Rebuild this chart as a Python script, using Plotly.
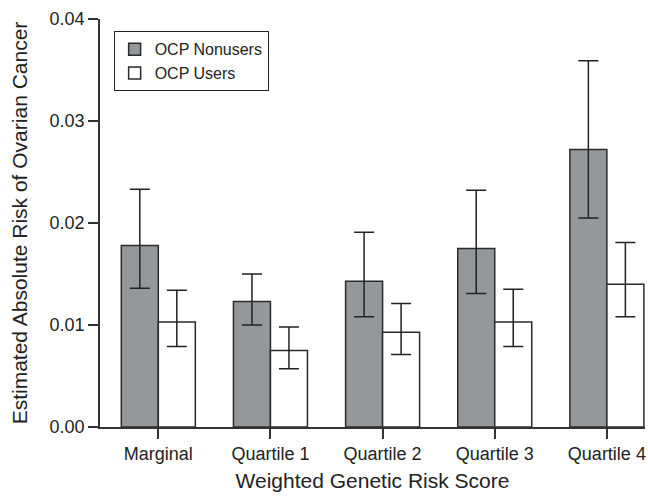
import plotly.graph_objects as go

# Risk estimates by weighted genetic risk score group
categories = ["Marginal", "Quartile 1", "Quartile 2", "Quartile 3", "Quartile 4"]

nonusers = [0.0178, 0.0123, 0.0143, 0.0175, 0.0272]
nonusers_hi = [0.0233, 0.0150, 0.0191, 0.0232, 0.0359]
nonusers_lo = [0.0136, 0.0100, 0.0108, 0.0131, 0.0205]

users = [0.0103, 0.0075, 0.0093, 0.0103, 0.0140]
users_hi = [0.0134, 0.0098, 0.0121, 0.0135, 0.0181]
users_lo = [0.0079, 0.0057, 0.0071, 0.0079, 0.0108]

y_ticks = [0.0, 0.01, 0.02, 0.03, 0.04]
y_tick_text = ["0.00", "0.01", "0.02", "0.03", "0.04"]

FONT = "Arial, Liberation Sans, Helvetica, sans-serif"
INK = "#222222"


def err(vals, hi, lo, color):
    return dict(
        type="data",
        symmetric=False,
        array=[h - v for h, v in zip(hi, vals)],
        arrayminus=[v - l for v, l in zip(vals, lo)],
        color=color,
        thickness=1.5,
        width=10,
    )


fig = go.Figure()
fig.add_trace(go.Bar(
    x=categories, y=nonusers, name="OCP Nonusers",
    marker=dict(color="#96979b", line=dict(color="#2a2a2a", width=1.5)),
    error_y=err(nonusers, nonusers_hi, nonusers_lo, INK),
))
fig.add_trace(go.Bar(
    x=categories, y=users, name="OCP Users",
    marker=dict(color="#ffffff", line=dict(color="#2a2a2a", width=1.5)),
    error_y=err(users, users_hi, users_lo, INK),
))

fig.update_layout(
    width=648, height=502,
    margin=dict(l=100, r=3, t=19, b=75),
    paper_bgcolor="white", plot_bgcolor="white",
    barmode="group", bargap=0.34, bargroupgap=0,
    font=dict(family=FONT, size=18, color=INK),
    showlegend=True,
    legend=dict(
        x=0.025, y=0.97, xanchor="left", yanchor="top",
        bgcolor="white", bordercolor="#222222", borderwidth=1,
        font=dict(family=FONT, size=16, color=INK),
        tracegroupgap=0, itemwidth=30,
    ),
    xaxis=dict(
        range=[-0.52, 4.34],
        showline=True, linecolor="#333333", linewidth=1.5,
        ticks="outside", ticklen=10, tickwidth=1.5, tickcolor="#333333",
        showgrid=False, zeroline=False,
        tickfont=dict(size=18, color=INK),
        title=dict(text="Weighted Genetic Risk Score", font=dict(size=21, color=INK), standoff=10),
    ),
    yaxis=dict(
        range=[0, 0.04],
        tickvals=y_ticks, ticktext=y_tick_text,
        showline=True, linecolor="#333333", linewidth=1.5,
        ticks="outside", ticklen=10, tickwidth=1.5, tickcolor="#333333",
        showgrid=False, zeroline=False,
        tickfont=dict(size=18, color=INK),
        title=dict(text="Estimated Absolute Risk of Ovarian Cancer", font=dict(size=21, color=INK), standoff=16),
    ),
)

fig.write_html("out.html")
